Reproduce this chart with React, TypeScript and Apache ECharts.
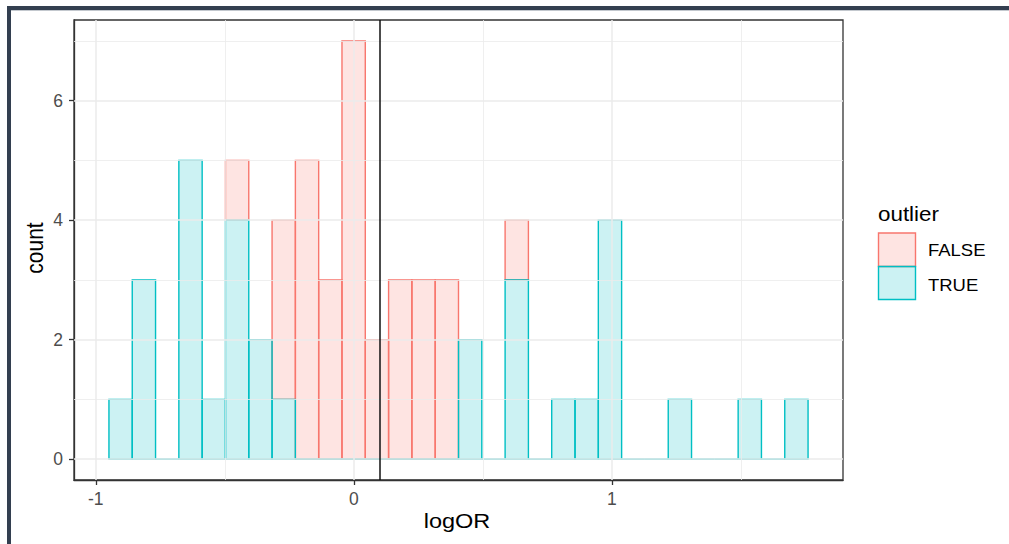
import React, { useEffect, useRef } from "react";
import * as echarts from "echarts";

// ---- data ----
const binStart = -0.949; // left edge of the first histogram bin (logOR)
const binWidth = 0.0903; // ggplot default 30 bins
const countFalse = [0, 0, 0, 0, 0, 1, 0, 3, 5, 3, 7, 2, 3, 3, 3, 0, 0, 1, 0, 0, 0, 0, 0, 0, 0, 0, 0, 0, 0, 0];
const countTrue = [1, 3, 0, 5, 1, 4, 2, 1, 0, 0, 0, 0, 0, 0, 0, 2, 0, 3, 0, 1, 1, 4, 0, 0, 1, 0, 0, 1, 0, 1];
const xMajorTicks = [-1, 0, 1];
const xMinorGrid = [-0.5, 0.5, 1.5];
const yMajorTicks = [0, 2, 4, 6];
const yMinorGrid = [1, 3, 5, 7];
const vlineX = 0.1;
const legendTitle = "outlier";
const legendLabels = ["FALSE", "TRUE"];
const xTitle = "logOR";
const yTitle = "count";

const FONT = "'Liberation Sans', Arial, sans-serif";
const RED = "#F8766D";
const CYAN = "#00BFC4";
const RED_FILL = "rgba(248,118,109,0.2)";
const CYAN_FILL = "rgba(0,191,196,0.2)";
const STRETCH = 1.12;

const trueRects = countTrue.map((c, i) => [binStart + i * binWidth, binStart + (i + 1) * binWidth, 0, c]);
const falseRects = countFalse
  .map((f, i) => [binStart + i * binWidth, binStart + (i + 1) * binWidth, countTrue[i], countTrue[i] + f])
  .filter((r) => r[3] > r[2]);

function makeRender(fill: string, stroke: string) {
  return (params: any, api: any) => {
    const x0 = api.value(0), x1 = api.value(1), y0 = api.value(2), y1 = api.value(3);
    const p0 = api.coord([x0, y0]);
    const p1 = api.coord([x1, y1]);
    if (y1 === y0) {
      return {
        type: "line",
        shape: { x1: p0[0], y1: p0[1], x2: p1[0], y2: p0[1] },
        style: { stroke, lineWidth: 1.4 },
      };
    }
    return {
      type: "rect",
      shape: { x: p0[0], y: p1[1], width: p1[0] - p0[0], height: p0[1] - p1[1] },
      style: { fill, stroke, lineWidth: 1.4 },
    };
  };
}

const gridLine = (w: number) => ({
  symbol: ["none", "none"],
  silent: true,
  label: { show: false },
  emphasis: { disabled: true },
  lineStyle: { color: "#EBEBEB", width: w, type: "solid" },
});

export default function App() {
  const ref = useRef<HTMLDivElement>(null);
  useEffect(() => {
    if (!ref.current) return;
    const chart = echarts.init(ref.current, null, { renderer: "svg" });
    const option: any = {
      animation: false,
      backgroundColor: "#ffffff",
      textStyle: { fontFamily: FONT },
      grid: {
        left: 74,
        top: 20,
        width: 769,
        height: 460,
        show: true,
        borderColor: "#333333",
        borderWidth: 1.3,
        backgroundColor: "transparent",
      },
      xAxis: {
        type: "value",
        min: binStart - 0.1354,
        max: binStart + 30 * binWidth + 0.1354,
        splitLine: { show: false },
        axisLine: { show: true, onZero: false, lineStyle: { color: "#333333", width: 1.3 } },
        axisTick: { show: true, customValues: xMajorTicks, length: 5, lineStyle: { color: "#333333", width: 1.3 } },
        axisLabel: { customValues: xMajorTicks, color: "#4D4D4D", fontSize: 17.5, margin: 10, fontFamily: FONT },
      },
      yAxis: {
        type: "value",
        min: -0.35,
        max: 7.35,
        splitLine: { show: false },
        axisLine: { show: true, onZero: false, lineStyle: { color: "#333333", width: 1.3 } },
        axisTick: { show: true, customValues: yMajorTicks, length: 5, lineStyle: { color: "#333333", width: 1.3 } },
        axisLabel: { customValues: yMajorTicks, color: "#4D4D4D", fontSize: 17.5, margin: 11, fontFamily: FONT },
      },
      series: [
        {
          type: "custom",
          name: "minorGrid",
          z: 1,
          silent: true,
          data: [],
          renderItem: () => null,
          markLine: {
            ...gridLine(0.8),
            data: [...xMinorGrid.map((v) => ({ xAxis: v })), ...yMinorGrid.map((v) => ({ yAxis: v }))],
          },
        },
        {
          type: "custom",
          name: "majorGrid",
          z: 1,
          silent: true,
          data: [],
          renderItem: () => null,
          markLine: {
            ...gridLine(1.5),
            data: [...xMajorTicks.map((v) => ({ xAxis: v })), ...yMajorTicks.map((v) => ({ yAxis: v }))],
          },
        },
        {
          type: "custom",
          name: "FALSE",
          z: 2,
          silent: true,
          encode: { x: [0, 1], y: [2, 3] },
          data: falseRects,
          renderItem: makeRender(RED_FILL, RED),
        },
        {
          type: "custom",
          name: "TRUE",
          z: 3,
          silent: true,
          encode: { x: [0, 1], y: [2, 3] },
          data: trueRects,
          renderItem: makeRender(CYAN_FILL, CYAN),
        },
        {
          type: "custom",
          name: "vline",
          z: 4,
          silent: true,
          data: [],
          renderItem: () => null,
          markLine: {
            symbol: ["none", "none"],
            silent: true,
            label: { show: false },
            emphasis: { disabled: true },
            lineStyle: { color: "#111111", width: 1.5, type: "solid" },
            data: [{ xAxis: vlineX }],
          },
        },
      ],
      graphic: [
        // screenshot frame
        { type: "rect", silent: true, shape: { x: 7, y: 6, width: 1002, height: 4 }, style: { fill: "#333F50" } },
        { type: "rect", silent: true, shape: { x: 11, y: 10, width: 998, height: 1 }, style: { fill: "#C3C8CE" } },
        { type: "rect", silent: true, shape: { x: 7, y: 6, width: 4, height: 538 }, style: { fill: "#333F50" } },
        // axis titles
        {
          type: "text",
          x: 457,
          y: 521,
          scaleX: STRETCH,
          style: { text: xTitle, fill: "#000000", fontSize: 21, fontFamily: FONT, align: "center", verticalAlign: "middle" },
        },
        {
          type: "text",
          x: 35.5,
          y: 248,
          rotation: Math.PI / 2,
          scaleY: STRETCH,
          style: { text: yTitle, fill: "#000000", fontSize: 21, fontFamily: FONT, align: "center", verticalAlign: "middle" },
        },
        // legend
        {
          type: "text",
          x: 878,
          y: 214,
          scaleX: STRETCH,
          style: { text: legendTitle, fill: "#000000", fontSize: 20, fontFamily: FONT, align: "left", verticalAlign: "middle" },
        },
        {
          type: "rect",
          shape: { x: 878.5, y: 233, width: 37, height: 33.5 },
          style: { fill: RED_FILL, stroke: RED, lineWidth: 1.4 },
        },
        {
          type: "rect",
          shape: { x: 878.5, y: 266.5, width: 37, height: 33 },
          style: { fill: CYAN_FILL, stroke: CYAN, lineWidth: 1.4 },
        },
        {
          type: "text",
          x: 928,
          y: 250.5,
          scaleX: STRETCH,
          style: { text: legendLabels[0], fill: "#000000", fontSize: 16.5, fontFamily: FONT, align: "left", verticalAlign: "middle" },
        },
        {
          type: "text",
          x: 928,
          y: 285,
          scaleX: STRETCH,
          style: { text: legendLabels[1], fill: "#000000", fontSize: 16.5, fontFamily: FONT, align: "left", verticalAlign: "middle" },
        },
      ],
    };
    chart.setOption(option);
    return () => chart.dispose();
  }, []);
  return (
    <div
      ref={ref}
      style={{ position: "absolute", left: 0, top: 0, width: 1009, height: 544, background: "#ffffff" }}
    />
  );
}
